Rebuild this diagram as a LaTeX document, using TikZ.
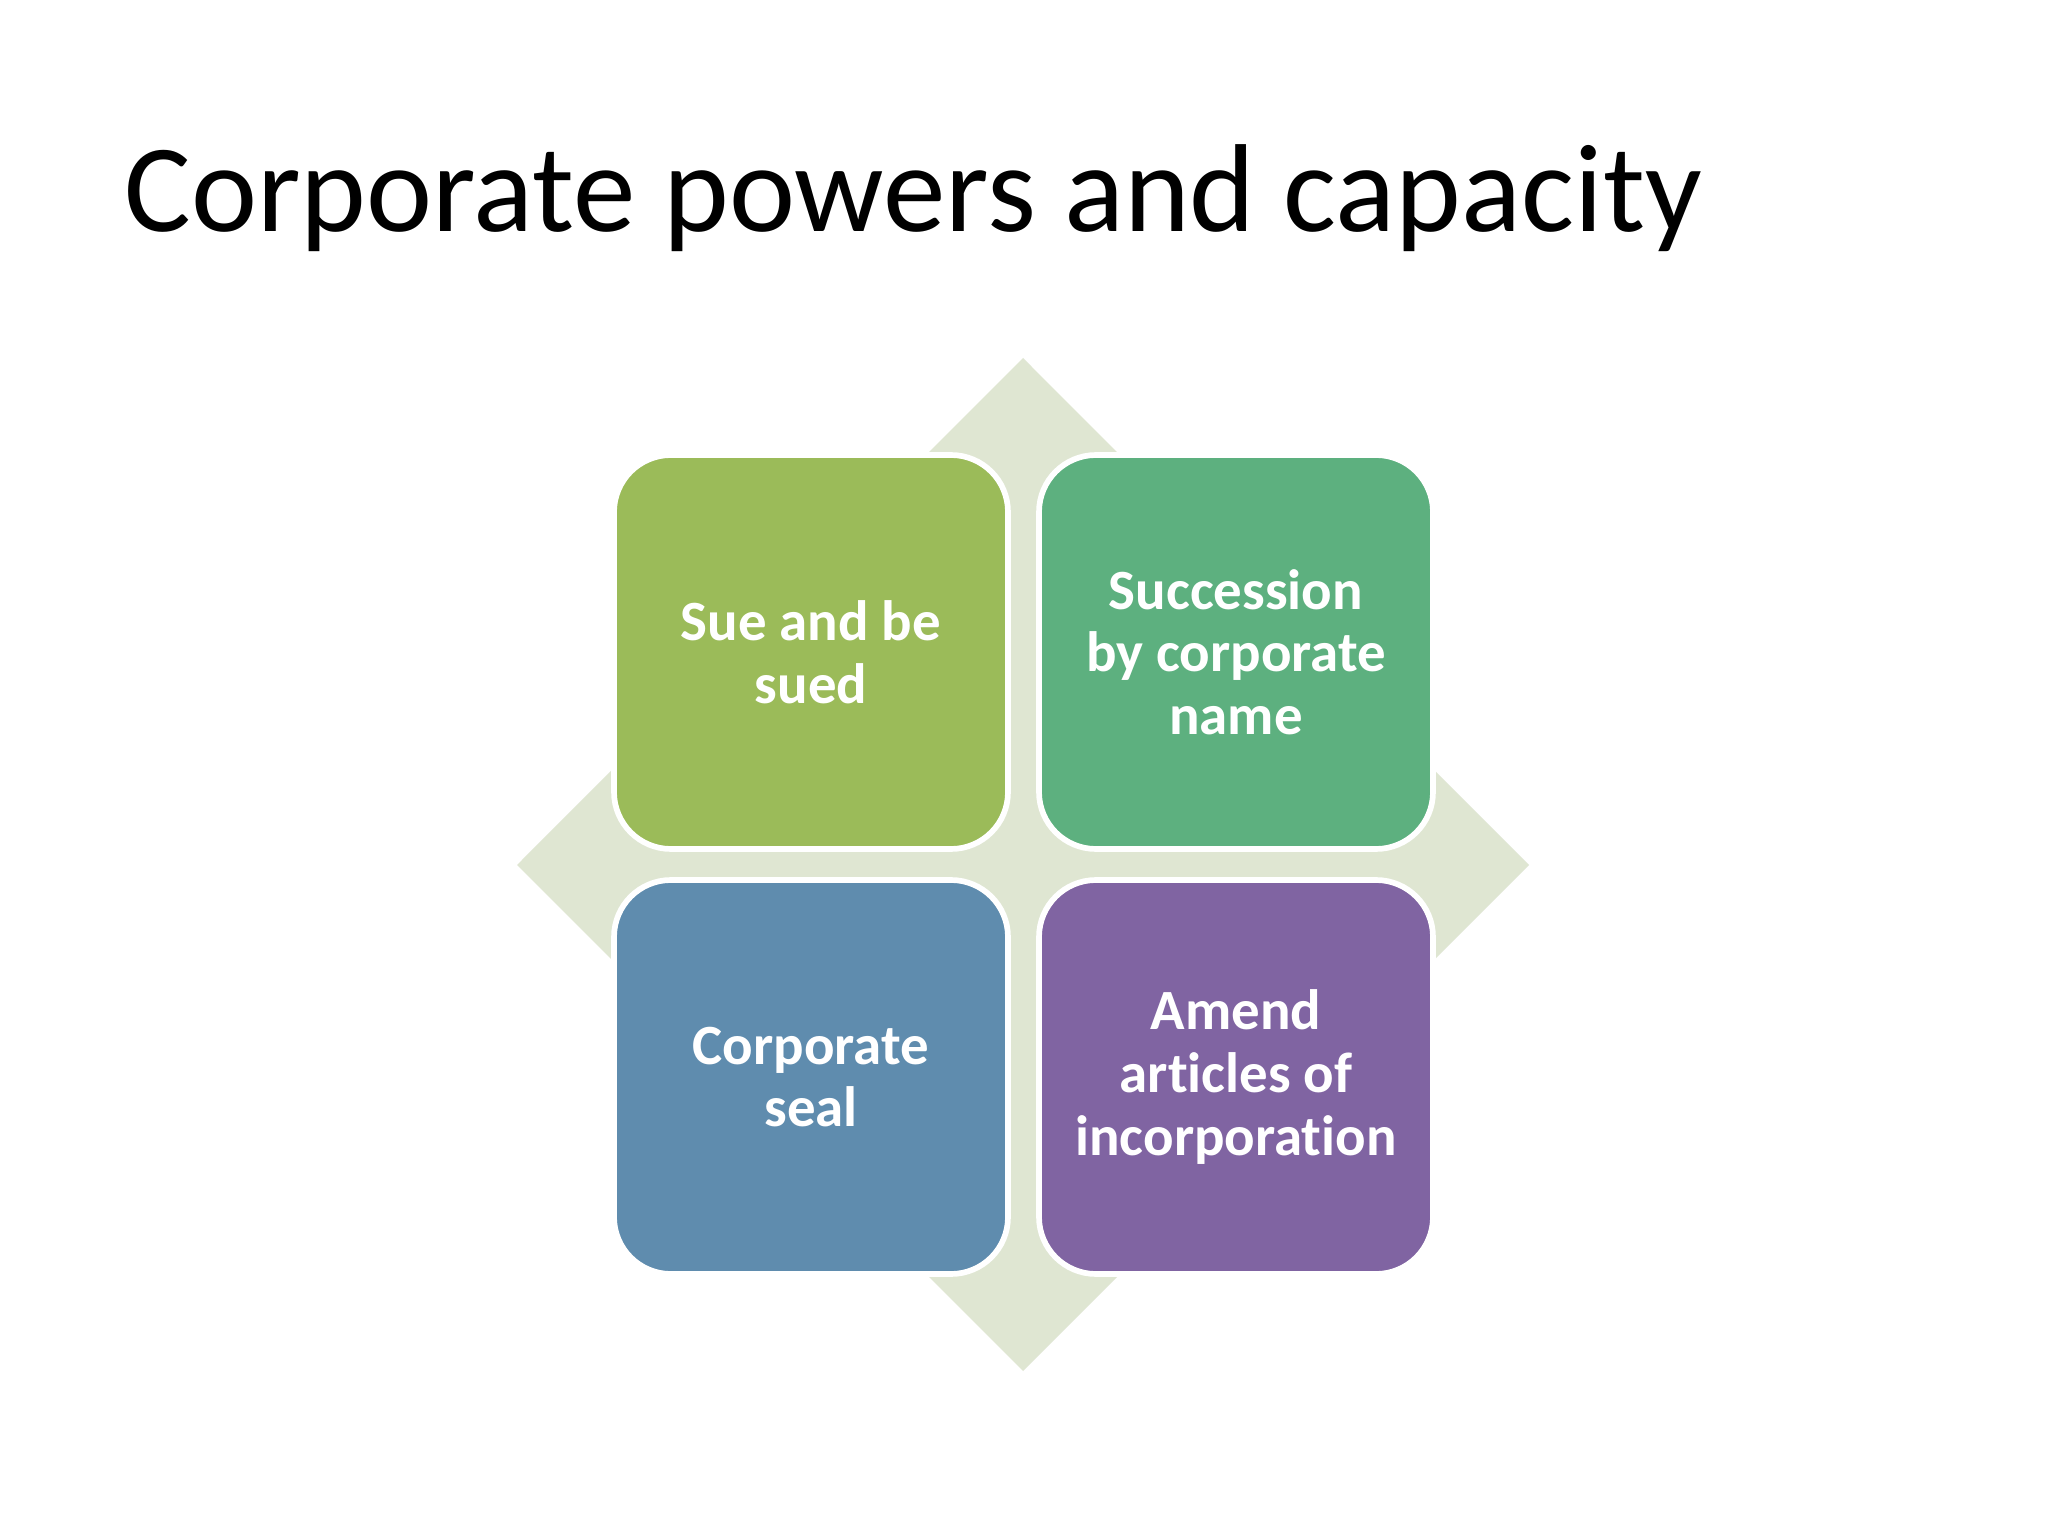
\documentclass[tikz,border=0pt]{standalone}
\usepackage{xcolor}
\usepackage{tikz}
\usepackage{fontspec}
\setmainfont{Carlito}[RawFeature=-liga]
\definecolor{ppgreen}{HTML}{9BBB59}
\definecolor{ppteal}{HTML}{5DB07F}
\definecolor{ppblue}{HTML}{5F8CAE}
\definecolor{pppurple}{HTML}{8064A2}
\definecolor{ppdiamond}{HTML}{DFE6D2}
\usetikzlibrary{shapes.geometric, positioning, calc}

\begin{document}
\begin{tikzpicture}[x=0.3515625pt, y=-0.3515625pt,
  powerbox/.style={rectangle, rounded corners=20pt, draw=white, line width=2pt,
    minimum width=138.5pt, minimum height=138.5pt, inner sep=0pt,
    text=white, align=center, font=\fontsize{20}{22}\selectfont\bfseries}]
\useasboundingbox (0,0) rectangle (2048,1536);
\fill[white] (0,0) rectangle (2048,1536);

% Title
\node[anchor=base west, inner sep=0pt, font=\fontsize{44}{53}\selectfont] (title) at (124,232) {Corporate powers and capacity};

% Background diamond
\fill[ppdiamond] (1023,358) -- (1529,865) -- (1023,1371) -- (517,865) -- cycle;

% Four boxes
\node[powerbox, fill=ppgreen] (sue) at (811,652) {Sue and be\\sued};
\node[powerbox, fill=ppteal] (succession) at (1236,652) {Succession\\by corporate\\name};
\node[powerbox, fill=ppblue] (seal) at (811,1077) {Corporate\\seal};
\node[powerbox, fill=pppurple] (amend) at (1236,1077) {Amend\\articles of\\incorporation};
\end{tikzpicture}
\end{document}
